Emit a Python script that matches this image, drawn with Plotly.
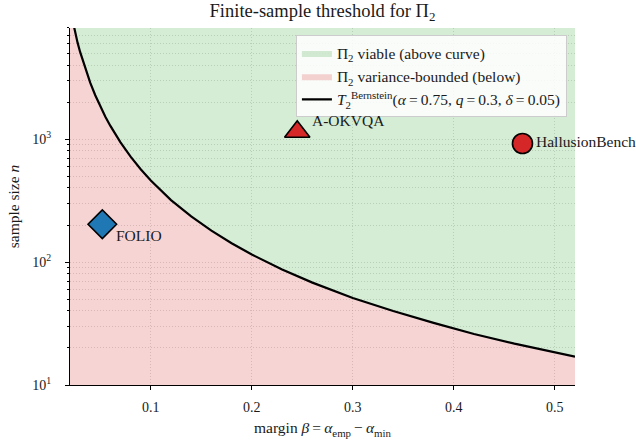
import math
import plotly.graph_objects as go

# --- data ---
beta = [0.020, 0.0225, 0.025, 0.0275, 0.030, 0.035, 0.040, 0.045, 0.050, 0.055, 0.060, 0.070,
        0.080, 0.090, 0.100, 0.120, 0.140, 0.160, 0.180, 0.200, 0.230, 0.260, 0.300,
        0.340, 0.380, 0.420, 0.460, 0.500, 0.520]
n_threshold = [11500, 9090, 7360, 6080, 5110, 3755, 2875, 2270, 1840, 1520, 1278, 939,
               719, 568, 460, 319, 235, 180, 142, 115, 87, 68, 51,
               40, 32, 26, 21.7, 18.4, 17.0]

bench_names = ["FOLIO", "A-OKVQA", "HallusionBench"]
bench_beta = [0.052, 0.245, 0.468]
bench_n = [203, 1145, 920]
bench_symbols = ["diamond", "triangle-up", "circle"]
bench_colors = ["#1f77b4", "#d62728", "#d62728"]
bench_sizes = [22, 22, 20]
label_shift = [(12, -11), (13, 11), (12, 2)]

x_range = [0.02, 0.52]
y_log_range = [1, 3.903]
y_fill_top = 10 ** 4.3
y_fill_bottom = 10 ** 0.7

x_ticks = [0.1, 0.2, 0.3, 0.4, 0.5]
x_ticktext = ["0.1", "0.2", "0.3", "0.4", "0.5"]
major_ticks = [10, 100, 1000]
major_text = ["10<sup>1</sup>", "10<sup>2</sup>", "10<sup>3</sup>"]
minor_ticks = [m * 10 ** k for k in (1, 2, 3) for m in range(2, 10)]

FONT = "Liberation Serif, Times New Roman, serif"
TXT = "#1a1a1a"
GREEN = "rgba(44,160,44,0.2)"
RED = "rgba(214,39,40,0.2)"
GRID = "rgba(150,150,150,0.35)"
GRID_DASH = "1px,2px"
TS = "\u2009"

fig = go.Figure()

# top boundary (invisible)
fig.add_trace(go.Scatter(x=beta, y=[y_fill_top] * len(beta), mode="lines",
                         line=dict(width=0), showlegend=False, hoverinfo="skip"))
# green region: between top and curve
fig.add_trace(go.Scatter(x=beta, y=n_threshold, mode="lines", line=dict(width=0),
                         fill="tonexty", fillcolor=GREEN,
                         name="Π<sub>2</sub> viable (above curve)"))
# red region: between curve and bottom
fig.add_trace(go.Scatter(x=beta, y=[y_fill_bottom] * len(beta), mode="lines",
                         line=dict(width=0), fill="tonexty", fillcolor=RED,
                         name="Π<sub>2</sub> variance-bounded (below)"))
# threshold curve
fig.add_trace(go.Scatter(
    x=beta, y=n_threshold, mode="lines", line=dict(color="black", width=2.2),
    name=("<i>T</i><sub>2</sub><sup>Bernstein</sup>(<i>α</i>" + TS + "=" + TS + "0.75, <i>q</i>"
          + TS + "=" + TS + "0.3, <i>δ</i>" + TS + "=" + TS + "0.05)")))

for name, bx, bn, sym, col, sz, (dx, dy) in zip(bench_names, bench_beta, bench_n, bench_symbols,
                                                  bench_colors, bench_sizes, label_shift):
    fig.add_trace(go.Scatter(x=[bx], y=[bn], mode="markers", showlegend=False,
                             marker=dict(symbol=sym, size=sz, color=col,
                                         line=dict(color="black", width=1.6)),
                             cliponaxis=False))
    fig.add_annotation(x=bx, y=math.log10(bn), xref="x", yref="y", text=name, showarrow=False,
                       xanchor="left", yanchor="middle", xshift=dx, yshift=dy,
                       font=dict(family=FONT, size=15.5, color=TXT))

axis_common = dict(showline=True, linecolor="black", linewidth=1.2, ticks="outside",
                   ticklen=4, tickwidth=1, tickcolor="black", mirror=False, zeroline=False,
                   showgrid=True, gridcolor=GRID, gridwidth=0.8, griddash=GRID_DASH,
                   automargin=False,
                   tickfont=dict(family=FONT, size=14, color=TXT))

fig.update_layout(
    width=636, height=440,
    margin=dict(l=70, r=61, t=28, b=55, autoexpand=False),
    paper_bgcolor="white", plot_bgcolor="white",
    font=dict(family=FONT, size=15.5, color=TXT),
    title=dict(text="Finite-sample threshold for Π<sub>2</sub>", x=0.5, xref="paper",
               xanchor="center", y=1 - 11 / 440, yanchor="middle", yref="container",
               font=dict(family=FONT, size=18.5, color=TXT)),
    xaxis=dict(range=x_range, tickmode="array", tickvals=x_ticks, ticktext=x_ticktext,
               ticklabelstandoff=5,
               title=dict(text="margin <i>β</i>" + TS + "=" + TS + "<i>α</i><sub>emp</sub>"
                          + TS + "−" + TS + "<i>α</i><sub>min</sub>",
                          standoff=8, font=dict(family=FONT, size=15.5)),
               **axis_common),
    yaxis=dict(type="log", range=y_log_range, tickmode="array", tickvals=major_ticks,
               ticktext=major_text, ticklabelstandoff=11,
               minor=dict(tickmode="array", tickvals=minor_ticks, ticks="outside", ticklen=2,
                          tickcolor="black", showgrid=True, gridcolor=GRID, griddash=GRID_DASH,
                          gridwidth=0.8),
               title=dict(text="sample size <i>n</i>", standoff=8,
                          font=dict(family=FONT, size=15.5)),
               **axis_common),
    legend=dict(x=0.984, y=0.979, xanchor="right", yanchor="top", traceorder="normal",
                bgcolor="rgba(255,255,255,0.85)", bordercolor="#cccccc", borderwidth=1,
                font=dict(family=FONT, size=15.5, color=TXT),
                itemwidth=30, tracegroupgap=2),
    showlegend=True,
)

fig.write_html("out.html", config={"displayModeBar": False},
               post_script="document.body.style.margin='0px';document.body.style.padding='0px';")
